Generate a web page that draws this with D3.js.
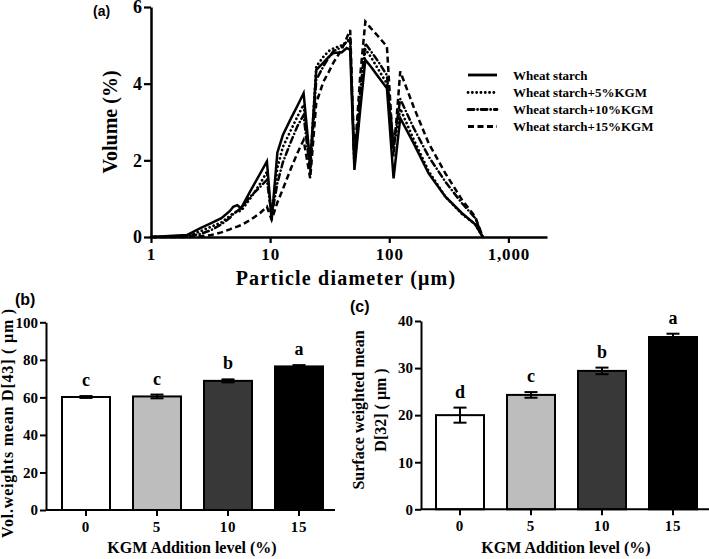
<!DOCTYPE html>
<html><head><meta charset="utf-8">
<script src="https://cdn.jsdelivr.net/npm/d3@7"></script>
<style>
body{margin:0;background:#fff}
text{font-family:"Liberation Serif","Times New Roman",serif;font-weight:bold;fill:#000}
.lbl{font-family:"Liberation Sans",Arial,sans-serif}
</style>
</head><body><svg id="chart" width="709" height="559"></svg>
<script>
// ---------- Panel (a) data: particle size distribution ----------
const diameters = [1, 2, 2.6, 3.2, 3.9, 4.6, 4.9, 5.3, 5.7, 6.8, 8.2, 9.4, 10.3, 11.5, 12.8, 15, 17, 19.1, 21.7, 24.4, 28, 31, 34, 40, 44, 47, 51, 57, 63, 70, 80, 95.6, 108.7, 123.7, 160, 214, 296, 408, 527, 610];
const wheat  = [0, 0.05, 0.23, 0.36, 0.49, 0.68, 0.79, 0.83, 0.75, 1.19, 1.64, 1.97, 0.44, 2.2, 2.66, 3.1, 3.43, 3.75, 1.92, 4.36, 4.55, 4.7, 4.8, 4.82, 4.93, 4.88, 1.75, 3.3, 4.62, 4.45, 4.2, 3.88, 1.53, 3.1, 2.45, 1.66, 1.05, 0.62, 0.33, 0];
const kgm5   = [0, 0.03, 0.15, 0.27, 0.38, 0.55, 0.62, 0.66, 0.68, 1.0, 1.38, 1.7, 0.5, 1.8, 2.35, 2.8, 3.15, 3.45, 1.85, 4.45, 4.7, 4.85, 4.92, 5.0, 5.08, 5.14, 1.85, 3.5, 4.9, 4.7, 4.4, 4.0, 2.3, 3.35, 2.55, 1.72, 1.05, 0.6, 0.33, 0];
const kgm10  = [0, 0.02, 0.08, 0.18, 0.33, 0.5, 0.6, 0.68, 0.76, 1.05, 1.3, 1.49, 0.55, 1.4, 1.95, 2.5, 2.9, 3.18, 1.7, 4.1, 4.45, 4.68, 4.85, 4.95, 5.1, 5.2, 1.9, 3.8, 5.05, 4.85, 4.6, 4.22, 2.4, 3.6, 2.85, 2.1, 1.44, 0.88, 0.49, 0];
const kgm15  = [0, 0, 0.02, 0.05, 0.12, 0.2, 0.24, 0.27, 0.31, 0.44, 0.62, 0.79, 0.45, 0.9, 1.25, 1.8, 2.2, 2.53, 1.53, 3.5, 4.05, 4.3, 4.55, 4.9, 5.2, 5.4, 2.0, 4.2, 5.62, 5.45, 5.25, 4.97, 2.1, 4.32, 3.4, 2.45, 1.66, 0.97, 0.53, 0];
const seriesNames = ["Wheat starch", "Wheat starch+5%KGM", "Wheat starch+10%KGM", "Wheat starch+15%KGM"];
const xTicksA = [1, 10, 100, 1000];
const yTicksA = [0, 2, 4, 6];

// ---------- Panels (b) and (c) data ----------
const levels = ["0", "5", "10", "15"];
const d43 = [60.2, 60.5, 68.8, 76.5];
const d43Err = [0.5, 1.0, 0.8, 0.7];
const d43Letters = ["c", "c", "b", "a"];
const d32 = [20.0, 24.3, 29.4, 36.6];
const d32Err = [1.6, 0.6, 0.7, 0.7];
const d32Letters = ["d", "c", "b", "a"];
const yTicksB = [0, 20, 40, 60, 80, 100];
const yTicksC = [0, 10, 20, 30, 40];
const barFills = ["#ffffff", "#bdbdbd", "#383838", "#000000"];

const svg = d3.select("#chart");

// ================= Panel (a) =================
const xA = d3.scaleLog().domain([1, 2110]).range([151, 547]);
const yA = d3.scaleLinear().domain([0, 6]).range([237, 7]);
const gA = svg.append("g");

const dashes = [null, "0.1,4.2", "6,3.5,0.1,3.5", "6,3.5"];
const caps = ["butt", "round", "round", "butt"];
const seriesVals = [wheat, kgm5, kgm10, kgm15];
const line = d3.line().x(d => xA(d[0])).y(d => yA(d[1]));
seriesVals.forEach((vals, i) => {
  gA.append("path")
    .attr("d", line(diameters.map((d, j) => [d, vals[j]])))
    .attr("fill", "none").attr("stroke", "#000")
    .attr("stroke-width", i === 1 ? 2.7 : 2.5)
    .attr("stroke-linecap", caps[i])
    .attr("stroke-linejoin", "miter")
    .attr("stroke-dasharray", dashes[i]);
});

const axA_x = gA.append("g").attr("transform", "translate(0,237)")
  .call(d3.axisBottom(xA).tickValues(xTicksA).tickFormat(d3.format(",")).tickSize(6).tickSizeOuter(0).tickPadding(5));
const axA_y = gA.append("g").attr("transform", "translate(151,0)")
  .call(d3.axisLeft(yA).tickValues(yTicksA).tickFormat(d3.format("d")).tickSize(7).tickSizeOuter(0).tickPadding(2));
[axA_x, axA_y].forEach(a => {
  a.select(".domain").attr("stroke-width", 2.5);
  a.selectAll(".tick line").attr("stroke-width", 2.2);
  a.selectAll("text").style("font-family", '"Liberation Serif",serif').style("font-weight", "bold").attr("fill", "#000");
});
axA_x.selectAll("text").style("font-size", "17px").style("letter-spacing", "0.8px");
axA_y.selectAll("text").style("font-size", "18px");

gA.append("text").attr("x", 346).attr("y", 285).attr("text-anchor", "middle")
  .style("font-size", "20px").style("letter-spacing", "1.2px").text("Particle diameter (\u03bcm)");
gA.append("text").attr("transform", "translate(117,122) rotate(-90)").attr("text-anchor", "middle")
  .style("font-size", "20px").text("Volume (%)");
gA.append("text").attr("class", "lbl").attr("x", 93).attr("y", 16).style("font-size", "14px").text("(a)");

// legend
const legRows = [75, 92.5, 109.5, 126.5];
seriesNames.forEach((n, i) => {
  gA.append("line").attr("x1", 468).attr("x2", 497).attr("y1", legRows[i]).attr("y2", legRows[i])
    .attr("stroke", "#000").attr("stroke-width", 2.8)
    .attr("stroke-linecap", caps[i]).attr("stroke-dasharray", dashes[i]);
  gA.append("text").attr("x", 513).attr("y", legRows[i] + 4.5).style("font-size", "13px").text(n);
});

// ================= Bar panels =================
function barPanel(cfg) {
  const g = svg.append("g");
  const x = d3.scaleBand().domain(levels).range(cfg.xr).paddingInner(0.324).paddingOuter(0.162);
  const y = d3.scaleLinear().domain(cfg.yd).range(cfg.yr);
  levels.forEach((l, i) => {
    g.append("rect").attr("x", x(l)).attr("width", x.bandwidth())
      .attr("y", y(cfg.vals[i])).attr("height", y(0) - y(cfg.vals[i]))
      .attr("fill", barFills[i]).attr("stroke", "#000").attr("stroke-width", 2);
    const cx = x(l) + x.bandwidth() / 2;
    const lo = y(cfg.vals[i] - cfg.err[i]), hi = y(cfg.vals[i] + cfg.err[i]);
    g.append("line").attr("x1", cx).attr("x2", cx).attr("y1", lo).attr("y2", hi).attr("stroke", "#000").attr("stroke-width", 2);
    [lo, hi].forEach(yy => g.append("line").attr("x1", cx - 6.5).attr("x2", cx + 6.5).attr("y1", yy).attr("y2", yy)
      .attr("stroke", "#000").attr("stroke-width", 2));
    g.append("text").attr("x", cx).attr("y", hi - 10).attr("text-anchor", "middle")
      .style("font-size", "18px").text(cfg.letters[i]);
  });
  const ax = g.append("g").attr("transform", `translate(0,${cfg.yr[0]})`)
    .call(d3.axisBottom(x).tickSize(6).tickSizeOuter(0).tickPadding(5));
  ax.select(".domain").attr("d", `M${cfg.axisX},0H${cfg.axisEnd}`);
  const ay = g.append("g").attr("transform", `translate(${cfg.axisX},0)`)
    .call(d3.axisLeft(y).tickValues(cfg.yticks).tickSize(6).tickSizeOuter(0).tickPadding(2));
  [ax, ay].forEach(a => {
    a.select(".domain").attr("stroke-width", 2);
    a.selectAll(".tick line").attr("stroke-width", 2);
    a.selectAll("text").style("font-family", '"Liberation Serif",serif').style("font-weight", "bold").attr("fill", "#000");
  });
  ax.selectAll("text").style("font-size", "15px").style("letter-spacing", "0.8px");
  ay.selectAll("text").style("font-size", "15px");
  g.append("text").attr("x", cfg.titleX).attr("y", 553).attr("text-anchor", "middle")
    .style("font-size", "16px").text("KGM Addition level (%)");
  return g;
}

const gB = barPanel({xr: [50.5, 334.5], axisX: 46, axisEnd: 335, yd: [0, 100], yr: [510, 322.3], vals: d43, err: d43Err,
  letters: d43Letters, yticks: yTicksB, titleX: 192});
gB.append("text").attr("transform", "translate(13,423) rotate(-90)").attr("text-anchor", "middle")
  .style("font-size", "16px").style("letter-spacing", "0.8px").text("Vol.weights mean D[43] ( \u03bcm )");
gB.append("text").attr("class", "lbl").attr("x", 15).attr("y", 305).style("font-size", "16px").text("(b)");

const gC = barPanel({xr: [424.5, 708.5], axisX: 421, axisEnd: 709, yd: [0, 40], yr: [509.3, 321], vals: d32, err: d32Err,
  letters: d32Letters, yticks: yTicksC, titleX: 566});
gC.append("text").attr("transform", "translate(364,410) rotate(-90)").attr("text-anchor", "middle")
  .style("font-size", "16px").text("Surface weighted mean");
gC.append("text").attr("transform", "translate(386,410) rotate(-90)").attr("text-anchor", "middle")
  .style("font-size", "16px").text("D[32] ( \u03bcm )");
gC.append("text").attr("class", "lbl").attr("x", 350).attr("y", 312).style("font-size", "16px").text("(c)");
</script>
</body></html>
